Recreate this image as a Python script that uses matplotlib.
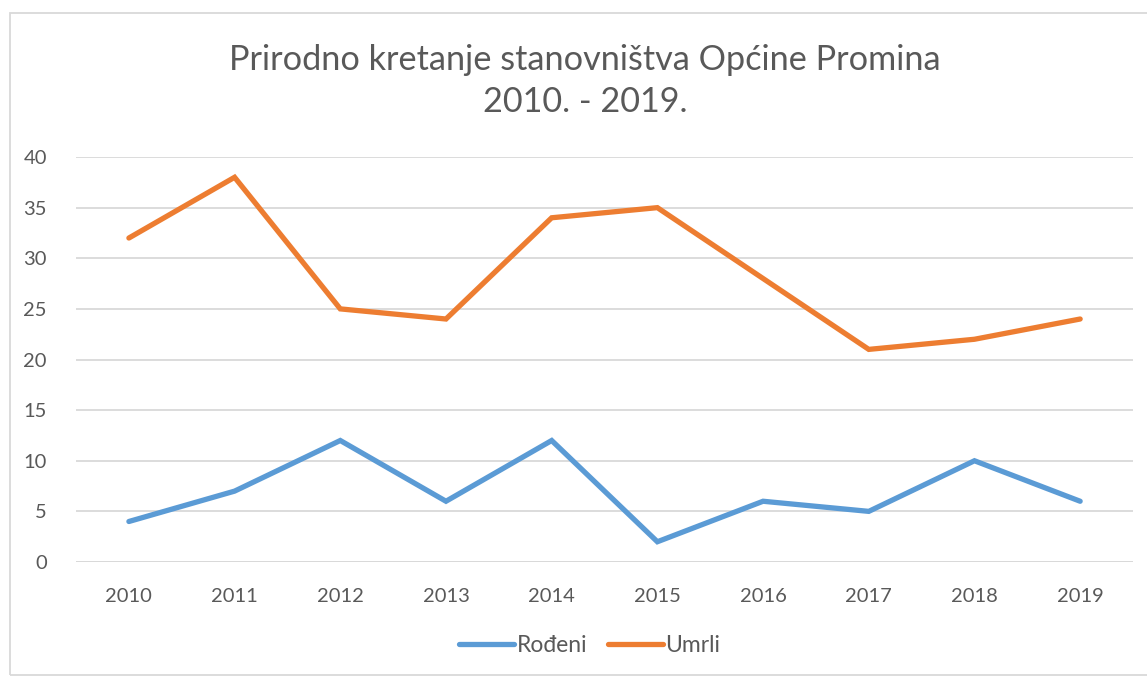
import matplotlib.pyplot as plt
from matplotlib.patches import Rectangle

plt.rcParams['font.family'] = ['Lato', 'DejaVu Sans']

godine = ['2010', '2011', '2012', '2013', '2014', '2015', '2016', '2017', '2018', '2019']
rodjeni = [4, 7, 12, 6, 12, 2, 6, 5, 10, 6]
umrli = [32, 38, 25, 24, 34, 35, 28, 21, 22, 24]

txt = '#595959'
grid = '#d9d9d9'

fig = plt.figure(figsize=(11.47, 6.78), dpi=100)
ax = fig.add_axes([0.0663, 0.1711, 0.9215, 0.5973])

x = range(len(godine))
ax.plot(x, rodjeni, color='#5B9BD5', lw=3.8, label='Rođeni', solid_capstyle='round', solid_joinstyle='miter')
ax.plot(x, umrli, color='#ED7D31', lw=3.8, label='Umrli', solid_capstyle='round', solid_joinstyle='miter')

ax.set_xlim(-0.5, 9.5)
ax.set_ylim(0, 40)
ax.set_yticks(range(0, 41, 5))
ax.set_xticks(list(x))
ax.set_xticklabels(godine)
ax.yaxis.grid(True, color=grid, lw=1.3)
ax.set_axisbelow(True)
for s in ax.spines.values():
    s.set_visible(False)
ax.axhline(0, color=grid, lw=1.3, zorder=0)
ax.tick_params(length=0, labelsize=14.5, colors=txt)
ax.tick_params(axis='x', pad=19)
ax.tick_params(axis='y', pad=21)

fig.text(0.51, 0.912, 'Prirodno kretanje stanovništva Općine Promina', ha='center', va='center',
         fontsize=24.7, color=txt)
fig.text(0.51, 0.85, '2010. - 2019.', ha='center', va='center', fontsize=24.7, color=txt)

fig.legend(loc='center', bbox_to_anchor=(0.514, 0.048), ncol=2, frameon=False, fontsize=16.5,
           labelcolor=txt, handlelength=2.4, handletextpad=0.12, columnspacing=0.9)

fig.patches.append(Rectangle((10 / 1147, 3 / 678), 1.2, 1 - 16 / 678, transform=fig.transFigure,
                             fill=False, edgecolor=grid, lw=1.3))

fig.savefig('out.png', dpi=100)
